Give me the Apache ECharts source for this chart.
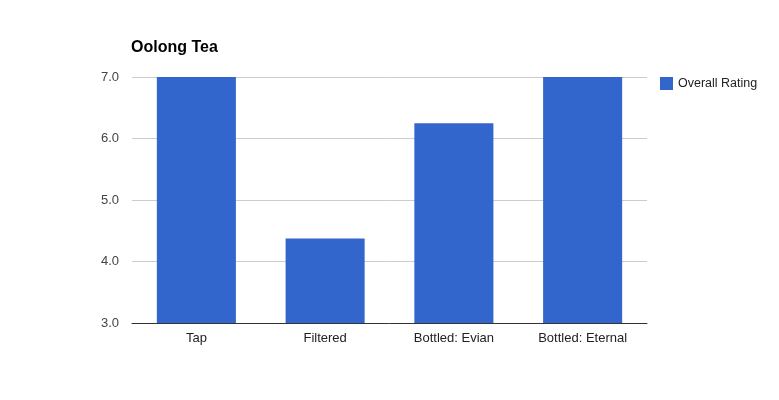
<!DOCTYPE html>
<html>
<head>
<meta charset="utf-8">
<script src="https://cdn.jsdelivr.net/npm/echarts@6/dist/echarts.min.js"></script>
<style>html,body{margin:0;padding:0;background:#fff}#c{width:779px;height:400px}</style>
</head>
<body>
<div id="c"></div>
<script>
const categories = ['Tap', 'Filtered', 'Bottled: Evian', 'Bottled: Eternal'];
const overallRating = [7.0, 4.375, 6.25, 7.0];
const yTicks = [3, 4, 5, 6, 7];

const chart = echarts.init(document.getElementById('c'));
chart.setOption({
  animation: false,
  title: {
    text: 'Oolong Tea',
    left: 131, top: 40, padding: 0,
    textStyle: { fontFamily: 'Liberation Sans, Arial', fontSize: 16, fontWeight: 'bold', color: '#000' }
  },
  legend: {
    data: ['Overall Rating'],
    orient: 'vertical',
    left: 660, top: 77, padding: 0,
    icon: 'rect', itemWidth: 13, itemHeight: 13, itemGap: 5,
    textStyle: { fontFamily: 'Liberation Sans, Arial', fontSize: 12.5, color: '#222', padding: [0, 0, 0, 0] }
  },
  grid: { left: 132, right: 132, top: 77, bottom: 77, containLabel: false },
  xAxis: {
    type: 'category',
    data: categories,
    axisTick: { show: false },
    axisLine: { lineStyle: { color: '#333', width: 1 } },
    axisLabel: { fontFamily: 'Liberation Sans, Arial', fontSize: 13, color: '#222', margin: 9 }
  },
  yAxis: {
    type: 'value',
    min: yTicks[0], max: yTicks[yTicks.length - 1], interval: 1,
    axisLine: { show: false },
    axisTick: { show: false },
    splitLine: { lineStyle: { color: '#ccc' } },
    axisLabel: { fontFamily: 'Liberation Sans, Arial', fontSize: 13, color: '#444', margin: 13,
      formatter: v => v.toFixed(1) }
  },
  series: [{
    name: 'Overall Rating',
    type: 'bar',
    data: overallRating,
    barCategoryGap: '38.6%',
    itemStyle: { color: '#3366cc' }
  }]
});
</script>
</body>
</html>
